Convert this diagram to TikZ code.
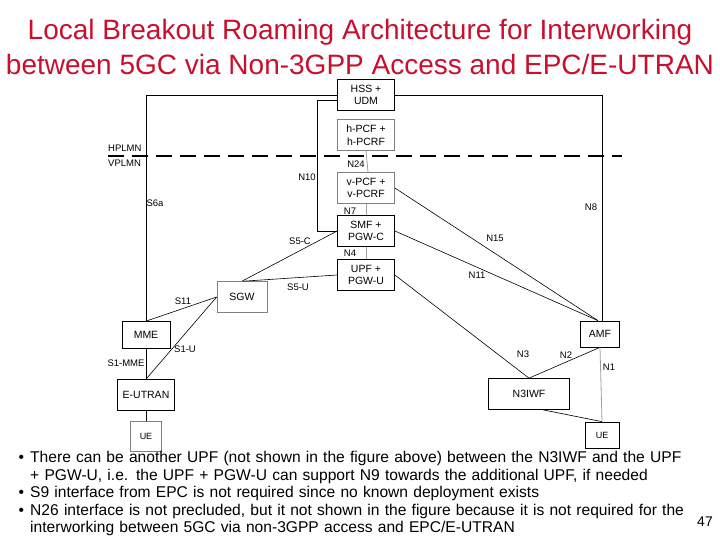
\documentclass[tikz,border=0pt]{standalone}
\usepackage{fontspec}
\setmainfont{Liberation Sans}
\usepackage{enumitem}
\usetikzlibrary{positioning,calc}
\definecolor{TitleRed}{HTML}{C8102E}
\definecolor{LineGray}{HTML}{A0A0A0}
\definecolor{BoxGray}{HTML}{808080}
\tikzset{
	nf/.style={draw=black, line width=0.7pt, minimum width=57pt, minimum height=31pt,
		align=center, inner sep=1pt, font=\fontsize{10.5}{12.5}\selectfont},
	link/.style={draw=black, line width=0.6pt},
	glink/.style={draw=LineGray, line width=0.8pt},
	lbl/.style={font=\fontsize{9.5}{10}\selectfont, inner sep=0pt},
}
\begin{document}
\begin{tikzpicture}[x=1pt,y=-1pt]
	\useasboundingbox (0,0) rectangle (720,540);
	
	% title
	\node[TitleRed, font=\fontsize{28}{35}\selectfont, align=center] (title) at (360,47)
	{Local Breakout Roaming Architecture for Interworking\\between 5GC via Non-3GPP Access and EPC/E-UTRAN};
	
	% home / visited split
	\coordinate (plmnL) at (108,156);
	\coordinate (plmnR) at (622,156);
	\draw[line width=2.2pt, dash pattern=on 16pt off 8pt] (plmnL) -- (plmnR);
	\node[lbl, anchor=south west] (hplmn) at (108,152) {HPLMN};
	\node[lbl, anchor=north west] (vplmn) at (108,160) {VPLMN};
	
	% network functions
	\node[nf] (hss) at (366,95) {HSS +\\UDM};
	\node[nf, draw=BoxGray] (hpcf) at (366,135) {h-PCF +\\h-PCRF};
	\node[nf, draw=BoxGray] (vpcf) at (366,188) {v-PCF +\\v-PCRF};
	\node[nf] (smf) at (366,231) {SMF +\\PGW-C};
	\node[nf] (upf) at (366,275) {UPF +\\PGW-U};
	\node[nf, draw=BoxGray, minimum width=50pt] (sgw) at (242,297) {SGW};
	\node[nf, minimum width=48pt, minimum height=27pt] (mme) at (146,335) {MME};
	\node[nf] (eutran) at (146,395) {E-UTRAN};
	\node[nf, draw=BoxGray, minimum width=31pt, minimum height=30pt, font=\fontsize{9}{10}\selectfont] (ueL) at (146,436) {UE};
	\node[nf, minimum width=39pt, minimum height=26pt] (amf) at (600,334) {AMF};
	\node[nf, minimum width=81pt] (n3iwf) at (529,394) {N3IWF};
	\node[nf, minimum width=34pt, minimum height=26pt, font=\fontsize{9}{10}\selectfont] (ueR) at (602,435) {UE};
	
	% reference points
	\draw[link] (hss.west) -| (mme.north);
	\draw[link] (hss.east) -| ([xshift=2pt]amf.north);
	\draw[link] ([yshift=-5pt]hss.west) -| ([xshift=-20pt]smf.west) -- (smf.west);
	\draw[glink] (hpcf.south) -- ([xshift=2pt]vpcf.north);
	\draw[glink] (vpcf.south) -- (smf.north);
	\draw[glink] (smf.south) -- (upf.north);
	\draw[link] (smf.west) -- (sgw.north);
	\draw[link] (upf.west) -- ([xshift=2pt]sgw.north);
	\draw[link] (mme.north) -- (sgw.west);
	\draw[link] (eutran.north) -- (sgw.west);
	\draw[link] (mme.south) -- (eutran.north);
	\draw[link] (eutran.south) -- (ueL.north);
	\draw[link] (vpcf.east) -- ([xshift=-2pt]amf.north);
	\draw[link] (smf.east) -- ([xshift=-2pt]amf.north);
	\draw[link] (upf.east) -- (n3iwf.north);
	\draw[link] (n3iwf.north) -- (amf.south);
	\draw[glink] (amf.south) -- (ueR.north);
	\draw[link] ([xshift=14pt]n3iwf.south) -- (ueR.north);
	
	% labels
	\node[lbl] (s6a) at (155,203) {S6a};
	\node[lbl] (n10) at (307,177) {N10};
	\node[lbl] (n24) at (356,164) {N24};
	\node[lbl] (n7) at (350,211) {N7};
	\node[lbl] (n4) at (350,253) {N4};
	\node[lbl] (s5c) at (300,241) {S5-C};
	\node[lbl] (s5u) at (298,287) {S5-U};
	\node[lbl] (s11) at (183,301) {S11};
	\node[lbl] (s1u) at (185,349) {S1-U};
	\node[lbl] (s1mme) at (126,363) {S1-MME};
	\node[lbl] (n8) at (591,207) {N8};
	\node[lbl] (n15) at (495,238) {N15};
	\node[lbl] (n11) at (477,275) {N11};
	\node[lbl] (n3) at (523,354) {N3};
	\node[lbl] (n2) at (566,355) {N2};
	\node[lbl] (n1) at (609,367) {N1};
	
	% notes
	\node[anchor=north west, text width=700pt, inner sep=0pt, align=left,
	font=\fontsize{15.6}{17.5}\selectfont] (notes) at (14,445) {
		\begin{itemize}[leftmargin=16pt, labelsep=6pt, topsep=0pt, partopsep=0pt, itemsep=0pt, parsep=0pt]
			\item There can be another UPF (not shown in the figure above) between the N3IWF and the UPF\newline
			+ PGW-U, i.e. the UPF + PGW-U can support N9 towards the additional UPF, if needed
			\item S9 interface from EPC is not required since no known deployment exists
			\item N26 interface is not precluded, but it not shown in the figure because it is not required for the\newline
			interworking between 5GC via non-3GPP access and EPC/E-UTRAN
		\end{itemize}
	};
	\node[font=\fontsize{14}{16}\selectfont] (page) at (705,522) {47};
\end{tikzpicture}
\end{document}
